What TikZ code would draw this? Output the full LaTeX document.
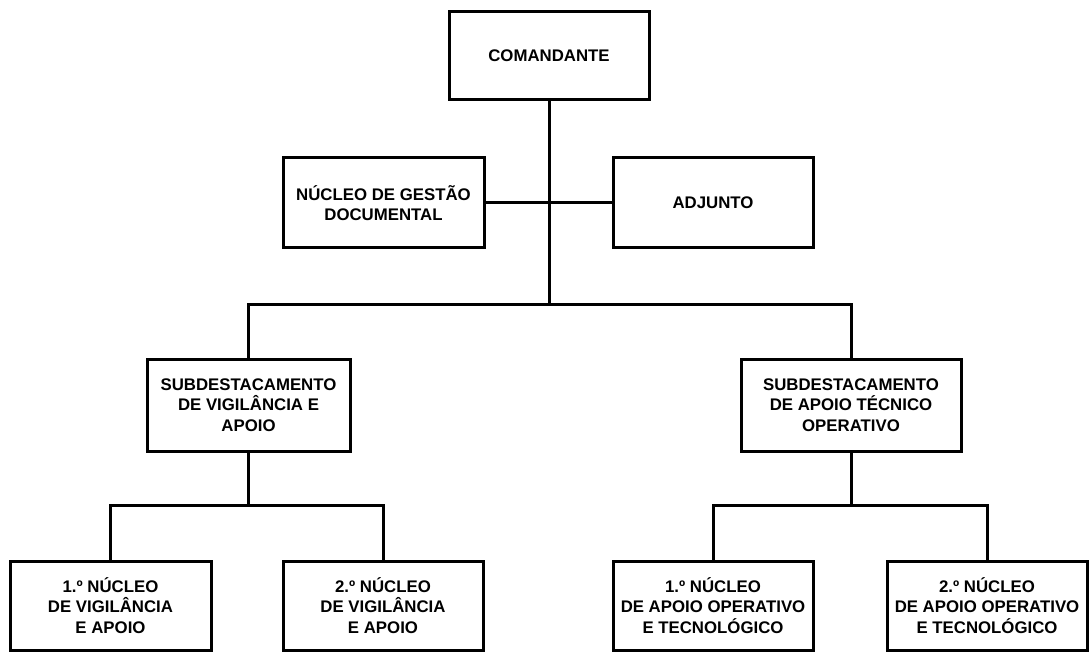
\documentclass[tikz,border=0pt]{standalone}
\usepackage{fontspec}
\setmainfont{Liberation Sans}
\begin{document}
\begin{tikzpicture}[x=1pt,y=-1pt,
  unit/.style={draw=black, line width=3pt, fill=white, align=center,
    font=\fontsize{16.8}{20.7}\selectfont\bfseries, inner sep=2pt,
    minimum width=200pt},
  link/.style={line width=3pt}]
\useasboundingbox (0,0) rectangle (1089,652);
% nodes
\node[unit, minimum height=88pt] (cmd) at (549,56) {COMANDANTE};
\node[unit, minimum height=90pt, minimum width=201pt] (ngd) at (383.5,203) {NÚCLEO DE GESTÃO\\DOCUMENTAL};
\node[unit, minimum height=90pt] (adj) at (713,203) {ADJUNTO};
\node[unit, minimum height=92pt, minimum width=203pt] (sva) at (248.5,405) {SUBDESTACAMENTO\\DE VIGILÂNCIA E\\APOIO};
\node[unit, minimum height=92pt, minimum width=220pt] (sat) at (851,405) {SUBDESTACAMENTO\\DE APOIO TÉCNICO\\OPERATIVO};
\node[unit, minimum height=89pt, minimum width=201pt] (n1) at (110.5,605.5) {1.º NÚCLEO\\DE VIGILÂNCIA\\E APOIO};
\node[unit, minimum height=89pt] (n2) at (383,605.5) {2.º NÚCLEO\\DE VIGILÂNCIA\\E APOIO};
\node[unit, minimum height=89pt] (n3) at (713,605.5) {1.º NÚCLEO\\DE APOIO OPERATIVO\\E TECNOLÓGICO};
\node[unit, minimum height=89pt] (n4) at (987,605.5) {2.º NÚCLEO\\DE APOIO OPERATIVO\\E TECNOLÓGICO};
% junctions
\coordinate (j1) at (549,304);
\coordinate (j2) at (248.5,505);
\coordinate (j3) at (851,505);
% connectors
\draw[link] (cmd.south) -- (j1);
\draw[link] (ngd.east) -- (adj.west);
\draw[link] (sva.north) |- (j1) -| (sat.north);
\draw[link] (sva.south) -- (j2);
\draw[link] (n1.north) |- (j2) -| (n2.north);
\draw[link] (sat.south) -- (j3);
\draw[link] (n3.north) |- (j3) -| (n4.north);
\end{tikzpicture}
\end{document}
